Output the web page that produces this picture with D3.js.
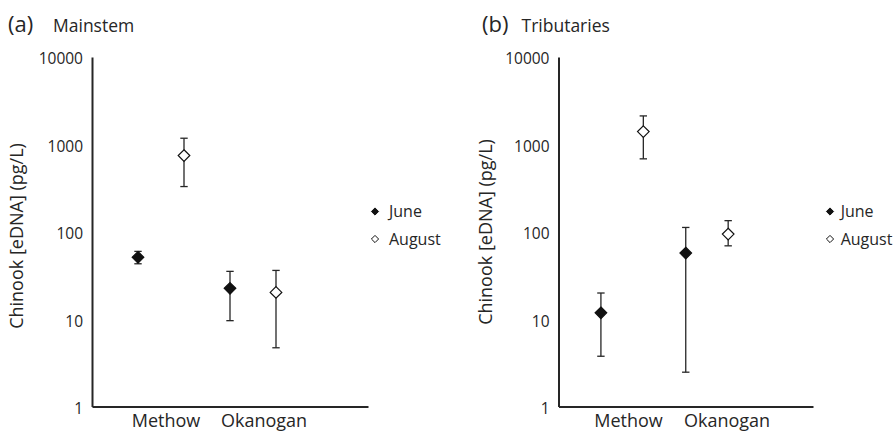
<!DOCTYPE html>
<html>
<head>
<meta charset="utf-8">
<script src="https://cdn.jsdelivr.net/npm/d3@7"></script>
<style>
  body { margin: 0; background: #fff; }
  svg { display: block; font-family: "Open Sans", sans-serif; }
</style>
</head>
<body>
<svg width="894" height="432"></svg>
<script>
// data (pg/L)
var sites = ["Methow", "Okanogan"];
var months = ["June", "August"];
var yTicks = [1, 10, 100, 1000, 10000];

// mainstem
var mainJune   = [51, 22.5];
var mainJuneLo = [43, 9.6];
var mainJuneHi = [59.6, 35.2];
var mainAug    = [745, 20.2];
var mainAugLo  = [329, 4.7];
var mainAugHi  = [1176, 36.1];

// tributaries
var tribJune   = [11.8, 57];
var tribJuneLo = [3.76, 2.47];
var tribJuneHi = [19.9, 112];
var tribAug    = [1400, 94];
var tribAugLo  = [683, 69];
var tribAugHi  = [2117, 134];

var svg = d3.select("svg");
var ink = "#262626";

// square diamond, Excel style
function diamond(r) {
    return "M0," + (-r) + "L" + r + ",0L0," + r + "L" + (-r) + ",0Z";
}

function panel(o) {
    var g = svg.append("g");

    var x = d3.scaleLinear().domain([0, 6]).range([o.left, o.right]);
    var y = d3.scaleLog().domain([1, 10000]).range([406.5, 57]);

    // titles
    g.append("text").attr("x", o.tagX).attr("y", 32).attr("font-size", 22)
        .attr("fill", ink).text(o.tag);
    g.append("text").attr("x", o.nameX).attr("y", 32).attr("font-size", 17.5)
        .attr("fill", ink).text(o.name);

    // y axis title
    g.append("text")
        .attr("transform", "translate(" + o.titleX + "," + o.titleY + ") rotate(-90)")
        .attr("text-anchor", "middle").attr("font-size", 18).attr("fill", ink)
        .text("Chinook [eDNA] (pg/L)");

    // y axis (no ticks)
    var ya = g.append("g").attr("transform", "translate(" + o.left + ",0)")
        .call(d3.axisLeft(y).tickValues(yTicks).tickFormat(d3.format("d")).tickSize(0).tickPadding(9));
    ya.select(".domain").attr("stroke", ink).attr("stroke-width", 2);
    ya.selectAll("text").attr("font-size", 15.5).attr("fill", ink)
        .attr("font-family", "Open Sans").attr("dy", "0.45em");

    // x axis line
    var xa = g.append("g").attr("transform", "translate(0,406.5)")
        .call(d3.axisBottom(x).tickValues([]).tickSize(0));
    xa.select(".domain").attr("stroke", ink).attr("stroke-width", 2);

    // site names
    g.selectAll(".site").data(sites).enter().append("text")
        .attr("x", function(d, i) { return o.left + o.labelOff[i]; })
        .attr("y", 427).attr("text-anchor", "middle")
        .attr("font-size", 18).attr("fill", ink).text(function(d) { return d; });

    // points + error bars
    var series = [
        { month: 0, v: o.june, lo: o.juneLo, hi: o.juneHi },
        { month: 1, v: o.aug,  lo: o.augLo,  hi: o.augHi }
    ];
    var pts = [];
    series.forEach(function(s) {
        sites.forEach(function(site, i) {
            pts.push({ xi: i * 2 + s.month + 1, v: s.v[i], lo: s.lo[i], hi: s.hi[i], month: s.month });
        });
    });

    var eb = g.selectAll(".eb").data(pts).enter().append("g")
        .attr("stroke", ink).attr("stroke-width", 1.3);
    eb.append("line")
        .attr("x1", function(d) { return x(d.xi); }).attr("x2", function(d) { return x(d.xi); })
        .attr("y1", function(d) { return y(d.lo); }).attr("y2", function(d) { return y(d.hi); });
    eb.append("line")
        .attr("x1", function(d) { return x(d.xi) - 3.7; }).attr("x2", function(d) { return x(d.xi) + 3.7; })
        .attr("y1", function(d) { return y(d.hi); }).attr("y2", function(d) { return y(d.hi); });
    eb.append("line")
        .attr("x1", function(d) { return x(d.xi) - 3.7; }).attr("x2", function(d) { return x(d.xi) + 3.7; })
        .attr("y1", function(d) { return y(d.lo); }).attr("y2", function(d) { return y(d.lo); });

    g.selectAll(".pt").data(pts).enter().append("path")
        .attr("d", diamond(5.8))
        .attr("transform", function(d) { return "translate(" + x(d.xi) + "," + y(d.v) + ")"; })
        .attr("fill", function(d) { return d.month === 0 ? "#111" : "#fff"; })
        .attr("stroke", "#111").attr("stroke-width", 1.2);

    // legend
    var lg = g.selectAll(".lg").data(months).enter().append("g")
        .attr("transform", function(d, i) { return "translate(" + o.legX + "," + (211.5 + i * 27.5) + ")"; });
    lg.append("path").attr("d", diamond(3.6))
        .attr("fill", function(d, i) { return i === 0 ? "#111" : "#fff"; })
        .attr("stroke", "#111").attr("stroke-width", 1);
    lg.append("text").attr("x", o.legGap).attr("dy", "0.36em")
        .attr("font-size", 16).attr("fill", ink).text(function(d) { return d; });
}

panel({
    tag: "(a)", name: "Mainstem", tagX: 8, nameX: 53,
    left: 92, right: 368, titleX: 23, titleY: 236,
    labelOff: [74, 172], legX: 375, legGap: 14,
    june: mainJune, juneLo: mainJuneLo, juneHi: mainJuneHi,
    aug: mainAug, augLo: mainAugLo, augHi: mainAugHi
});

panel({
    tag: "(b)", name: "Tributaries", tagX: 482, nameX: 521.5,
    left: 558.5, right: 813, titleX: 492, titleY: 232,
    labelOff: [70, 168.5], legX: 830, legGap: 10.7,
    june: tribJune, juneLo: tribJuneLo, juneHi: tribJuneHi,
    aug: tribAug, augLo: tribAugLo, augHi: tribAugHi
});
</script>
</body>
</html>
